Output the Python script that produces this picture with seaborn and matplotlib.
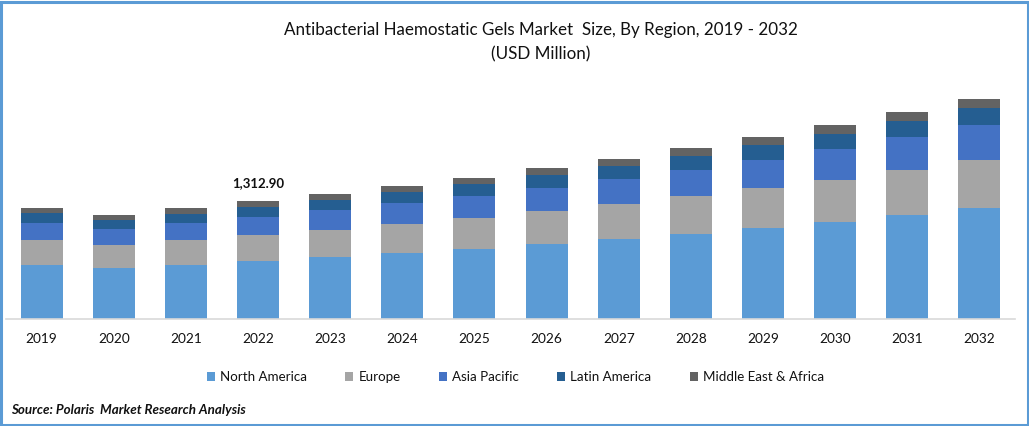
import numpy as np
import pandas as pd
import matplotlib
matplotlib.use("Agg")
import matplotlib.pyplot as plt
from matplotlib.patches import Rectangle
import seaborn as sns

years = [2019, 2020, 2021, 2022, 2023, 2024, 2025, 2026, 2027, 2028, 2029, 2030, 2031, 2032]
north_america = [601, 571, 601, 645.3, 690, 734, 779, 834, 890, 946, 1012, 1079, 1157, 1235]
europe = [278, 253, 278, 289.3, 300, 323, 345, 367, 389, 423, 445, 467, 501, 534]
asia_pacific = [189, 178, 189, 200.3, 223, 234, 245, 256, 278, 289, 312, 345, 367, 389]
latin_america = [111, 100, 100, 111.3, 111, 122, 134, 145, 145, 156, 167, 167, 178, 189]
middle_east_africa = [56, 56, 67, 66.7, 67, 67, 67, 78, 78, 89, 89, 100, 100, 100]

regions = ["North America", "Europe", "Asia Pacific", "Latin America", "Middle East & Africa"]
colors = ["#5B9BD5", "#A5A5A5", "#4472C4", "#255E91", "#636363"]

df = pd.DataFrame({
    "year": years,
    "North America": north_america,
    "Europe": europe,
    "Asia Pacific": asia_pacific,
    "Latin America": latin_america,
    "Middle East & Africa": middle_east_africa,
})

sns.set_style("white")
plt.rcParams["font.family"] = ["Lato", "DejaVu Sans"]

W, H = 1029, 426
fig = plt.figure(figsize=(W / 100, H / 100), dpi=100)
ax = fig.add_axes([5.5 / W, (H - 319) / H, 1010 / W, 234 / H])

# stacked bars
bottom = np.zeros(len(df))
for region, color in zip(regions, colors):
    sns.barplot(data=df, x="year", y=region, color=color, saturation=1, width=0.583,
                bottom=bottom, label=region, ax=ax, legend=False, linewidth=0)
    bottom += df[region].values

ax.set_xlim(-0.5, 13.5)
ax.set_ylim(0, 234 * 11.13)
ax.set_xlabel("")
ax.set_ylabel("")
ax.set_yticks([])
ax.tick_params(axis="x", length=0, pad=10, labelsize=9.8, labelcolor="#111111")
sns.despine(ax=ax, left=True)
ax.spines["bottom"].set_color("#D9D9D9")
ax.spines["bottom"].set_linewidth(1.2)

# only 2022 gets a label
ax.annotate(f"{bottom[3]:,.2f}", (3, bottom[3]), xytext=(0, 12), textcoords="offset pixels",
            ha="center", va="bottom", fontsize=9.5, fontweight="bold", color="#111111")

fig.text(540.5 / W, 1 - 30.5 / H, "Antibacterial Haemostatic Gels Market  Size, By Region, 2019 - 2032",
         ha="center", va="center", fontsize=12.26, color="#111111")
fig.text(540.5 / W, 1 - 54 / H, "(USD Million)", ha="center", va="center", fontsize=12.26, color="#111111")
fig.text(11 / W, 1 - 409.5 / H, "Source: Polaris  Market Research Analysis", ha="left", va="center",
         fontsize=9.65, fontweight="bold", fontstyle="italic", color="#111111")

handles, labels = ax.get_legend_handles_labels()
fig.legend(handles, labels, loc="center", bbox_to_anchor=(515.5 / W, 1 - 377 / H), ncol=5, frameon=False,
           fontsize=9.65, handlelength=0.6, handleheight=0.6, handletextpad=0.37, columnspacing=2.87,
           labelcolor="#111111")

# blue frame round the whole picture
fig.add_artist(Rectangle((1 / W, 1.5 / H), (W - 2.5) / W, (H - 3) / H, transform=fig.transFigure,
                         fill=False, edgecolor="#5B9BD5", linewidth=2.2))

fig.savefig("out.png", dpi=100)
